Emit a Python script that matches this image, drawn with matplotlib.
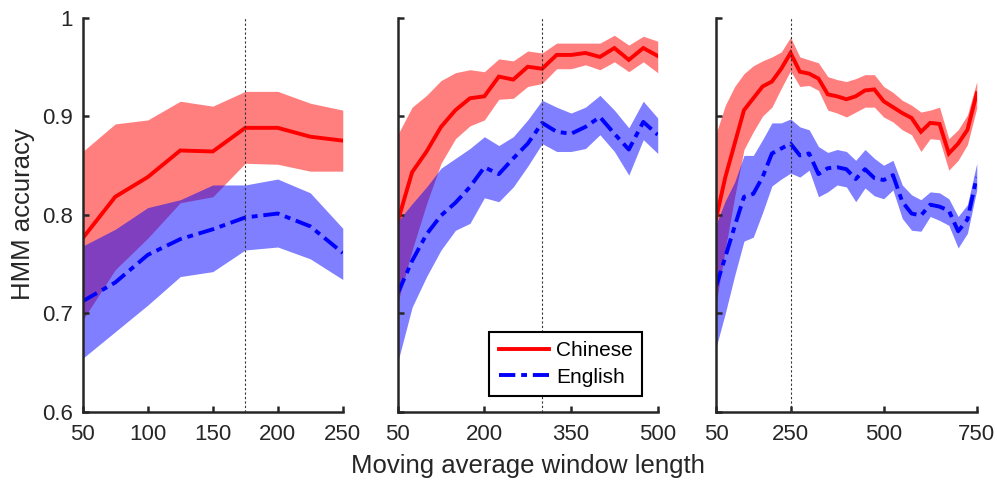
import matplotlib
matplotlib.use('Agg')
import matplotlib.pyplot as plt

plt.rcParams['font.family'] = ['Liberation Sans', 'DejaVu Sans']

# Datos (precisión HMM por ventana de media móvil)
x1 = [50, 75, 100, 125, 150, 175, 200, 225, 250]
red_mean1 = [0.776, 0.818, 0.838, 0.865, 0.864, 0.888, 0.888, 0.879, 0.875]
red_hi1 = [0.864, 0.892, 0.896, 0.915, 0.910, 0.925, 0.925, 0.913, 0.906]
red_lo1 = [0.693, 0.744, 0.776, 0.812, 0.818, 0.852, 0.851, 0.844, 0.844]
blue_mean1 = [0.712, 0.731, 0.759, 0.775, 0.785, 0.797, 0.801, 0.788, 0.761]
blue_hi1 = [0.768, 0.785, 0.807, 0.815, 0.830, 0.830, 0.836, 0.822, 0.786]
blue_lo1 = [0.654, 0.681, 0.708, 0.737, 0.742, 0.764, 0.767, 0.755, 0.734]

x2 = [50, 75, 100, 125, 150, 175, 200, 225, 250, 275, 300, 325, 350, 375,
      400, 425, 450, 475, 500]
red_mean2 = [0.793, 0.843, 0.864, 0.889, 0.906, 0.918, 0.920, 0.940, 0.937, 0.950,
             0.948, 0.962, 0.962, 0.964, 0.960, 0.969, 0.957, 0.969, 0.961]
red_hi2 = [0.881, 0.909, 0.921, 0.936, 0.944, 0.947, 0.945, 0.958, 0.956, 0.966,
           0.964, 0.974, 0.974, 0.974, 0.974, 0.982, 0.972, 0.981, 0.976]
red_lo2 = [0.710, 0.764, 0.811, 0.852, 0.877, 0.890, 0.896, 0.917, 0.918, 0.930,
           0.933, 0.948, 0.948, 0.952, 0.947, 0.955, 0.945, 0.955, 0.944]
blue_mean2 = [0.720, 0.753, 0.780, 0.799, 0.812, 0.828, 0.848, 0.841, 0.857, 0.872,
              0.893, 0.884, 0.882, 0.889, 0.899, 0.882, 0.866, 0.894, 0.881]
blue_hi2 = [0.793, 0.811, 0.828, 0.847, 0.857, 0.867, 0.879, 0.870, 0.879, 0.896,
            0.916, 0.909, 0.903, 0.909, 0.921, 0.906, 0.888, 0.915, 0.898]
blue_lo2 = [0.650, 0.706, 0.737, 0.764, 0.784, 0.791, 0.817, 0.813, 0.828, 0.849,
            0.872, 0.864, 0.864, 0.867, 0.881, 0.864, 0.840, 0.876, 0.862]

x3 = [50, 75, 100, 125, 150, 175, 200, 225, 250, 275, 300, 325, 350, 375, 400,
      425, 450, 475, 500, 525, 550, 575, 600, 625, 650, 675, 700, 725, 750]
red_mean3 = [0.796, 0.838, 0.872, 0.906, 0.918, 0.930, 0.935, 0.948, 0.964, 0.945,
             0.943, 0.938, 0.922, 0.920, 0.917, 0.920, 0.926, 0.927, 0.915, 0.909,
             0.903, 0.898, 0.884, 0.893, 0.892, 0.862, 0.872, 0.886, 0.923]
red_hi3 = [0.882, 0.911, 0.930, 0.943, 0.951, 0.956, 0.960, 0.965, 0.980, 0.960,
           0.957, 0.954, 0.940, 0.937, 0.935, 0.938, 0.942, 0.942, 0.930, 0.924,
           0.916, 0.911, 0.904, 0.906, 0.909, 0.877, 0.886, 0.901, 0.935]
red_lo3 = [0.710, 0.765, 0.818, 0.866, 0.884, 0.900, 0.909, 0.928, 0.946, 0.930,
           0.931, 0.926, 0.906, 0.903, 0.899, 0.904, 0.909, 0.909, 0.899, 0.894,
           0.886, 0.881, 0.864, 0.877, 0.876, 0.845, 0.855, 0.871, 0.908]
blue_mean3 = [0.727, 0.757, 0.788, 0.818, 0.821, 0.838, 0.862, 0.867, 0.872, 0.860,
              0.862, 0.841, 0.847, 0.848, 0.846, 0.836, 0.846, 0.837, 0.835, 0.840,
              0.813, 0.801, 0.799, 0.810, 0.808, 0.804, 0.783, 0.795, 0.838]
blue_hi3 = [0.790, 0.814, 0.833, 0.860, 0.860, 0.876, 0.893, 0.893, 0.897, 0.889,
            0.886, 0.869, 0.863, 0.866, 0.864, 0.855, 0.866, 0.857, 0.850, 0.855,
            0.830, 0.820, 0.815, 0.823, 0.822, 0.816, 0.798, 0.810, 0.852]
blue_lo3 = [0.665, 0.700, 0.738, 0.773, 0.777, 0.802, 0.829, 0.836, 0.842, 0.838,
            0.845, 0.818, 0.823, 0.830, 0.828, 0.813, 0.827, 0.819, 0.816, 0.825,
            0.796, 0.784, 0.783, 0.798, 0.794, 0.789, 0.766, 0.781, 0.825]

xticks1 = [50, 100, 150, 200, 250]
xticks2 = [50, 200, 350, 500]
xticks3 = [50, 250, 500, 750]
yticks = [0.6, 0.7, 0.8, 0.9, 1.0]
ytick_labels = ['0.6', '0.7', '0.8', '0.9', '1']
best_win = [175, 300, 250]

DARK = '#262626'


def draw_panel(ax, x, rm, rlo, rhi, bm, blo, bhi, xticks, best):
    # Bandas de error (rojo debajo, azul encima -> zona morada)
    ax.fill_between(x, rlo, rhi, color='#ff0000', alpha=0.5, lw=0)
    ax.fill_between(x, blo, bhi, color='#0000ff', alpha=0.5, lw=0)
    ax.plot(x, rm, color='#ff0000', lw=2.8, label='Chinese', solid_joinstyle='miter')
    ax.plot(x, bm, color='#0000ff', lw=2.8, dashes=(4.2, 1.5, 1.5, 1.5),
            dash_capstyle='butt', label='English')
    ax.axvline(best, color='#333333', lw=0.8, ls=(0, (2, 2)), zorder=5)

    ax.set_xlim(x[0], x[-1])
    ax.set_ylim(0.6, 1.0)
    ax.set_xticks(xticks)
    ax.set_yticks(yticks)

    for side in ['top', 'right']:
        ax.spines[side].set_visible(False)
    for side in ['left', 'bottom']:
        ax.spines[side].set_color(DARK)
        ax.spines[side].set_linewidth(1.8)
    ax.tick_params(direction='in', length=4, width=1.8, colors=DARK, labelsize=16)
    ax.tick_params(axis='x', pad=9)
    ax.tick_params(axis='y', pad=7)


fig = plt.figure(figsize=(9.97, 4.8), dpi=100)
ax1 = fig.add_axes([0.0830, 0.1427, 0.2608, 0.8208])
ax2 = fig.add_axes([0.3989, 0.1427, 0.2608, 0.8208])
ax3 = fig.add_axes([0.7182, 0.1427, 0.2615, 0.8208])

draw_panel(ax1, x1, red_mean1, red_lo1, red_hi1, blue_mean1, blue_lo1, blue_hi1, xticks1, best_win[0])
draw_panel(ax2, x2, red_mean2, red_lo2, red_hi2, blue_mean2, blue_lo2, blue_hi2, xticks2, best_win[1])
draw_panel(ax3, x3, red_mean3, red_lo3, red_hi3, blue_mean3, blue_lo3, blue_hi3, xticks3, best_win[2])

ax1.set_yticklabels(ytick_labels)
ax2.set_yticklabels([])
ax3.set_yticklabels([])

# Etiquetas de ejes
ax1.set_ylabel('HMM accuracy', fontsize=18.5, color=DARK)
ax1.yaxis.label.set_va('center')
ax1.yaxis.set_label_coords(-0.23, 0.5)

ax2.set_xlabel('Moving average window length', fontsize=18.5, color=DARK)
ax2.xaxis.label.set_va('baseline')
ax2.xaxis.set_label_coords(0.5, -0.157)

leg = ax2.legend(loc='lower right', bbox_to_anchor=(0.94, 0.039), borderaxespad=0,
                 fontsize=15, handlelength=2.4, handletextpad=0.35, labelspacing=0.35,
                 borderpad=0.45, fancybox=False, framealpha=1)
leg.get_frame().set_edgecolor('black')
leg.get_frame().set_linewidth(1.5)

fig.savefig('out.png', dpi=100)
